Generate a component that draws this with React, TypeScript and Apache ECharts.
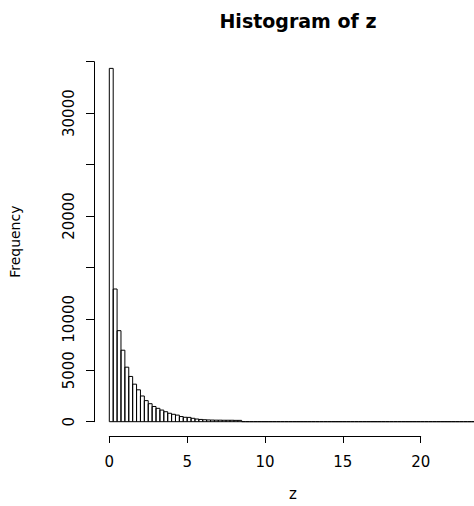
import React, { useEffect, useRef } from "react";
import * as echarts from "echarts";

// Histogram of z: bin width 0.25, starting at 0
const binWidth = 0.25;
const counts: number[] = [
  34350, 12900, 8850, 6950, 5300, 4400, 3650, 3100, 2500, 2050,
  1750, 1480, 1300, 1130, 970, 820, 720, 640, 500, 430,
  420, 330, 260, 220, 190, 170, 160, 150, 150, 140,
  140, 140, 130, 130,
  // 8.5 .. 23.5 (near-empty tail)
  3, 2, 1, 1, 0, 1, 0, 0, 1, 0,
  0, 0, 0, 0, 0, 0, 0, 0, 0, 0,
  0, 0, 0, 0, 0, 0, 0, 0, 0, 0,
  0, 0, 0, 0, 0, 0, 0, 0, 0, 0,
  0, 0, 0, 0, 0, 0, 0, 0, 0, 0,
  0, 0, 0, 0, 0, 0, 0, 0, 0, 1,
];
const xTicks = [0, 5, 10, 15, 20];
const yTickLabels = [0, 5000, 10000, 20000, 30000];

const titleText = "Histogram of z";
const xName = "z";
const yName = "Frequency";

const FONT = "DejaVu Sans";

export default function App() {
  const ref = useRef<HTMLDivElement>(null);
  useEffect(() => {
    if (!ref.current) return;
    const chart = echarts.init(ref.current, undefined, { renderer: "svg" });
    const data = counts.map((c, i) => [i * binWidth, (i + 1) * binWidth, c]);
    chart.setOption({
      animation: false,
      backgroundColor: "#fff",
      title: {
        text: titleText,
        left: 293,
        top: 6,
        textAlign: "center",
        textStyle: { fontFamily: FONT, fontWeight: "bold", fontSize: 19, color: "#000" },
      },
      grid: {
        left: 109.3,
        top: 61.7,
        width: 311.4,
        height: 360,
        outerBoundsMode: "none",
        containLabel: false,
      },
      xAxis: {
        type: "value",
        min: xTicks[0],
        max: xTicks[xTicks.length - 1],
        interval: 5,
        offset: 14.3,
        name: xName,
        nameLocation: "middle",
        nameGap: 50,
        nameTextStyle: { fontFamily: FONT, fontSize: 15, color: "#000", padding: [0, 0, 0, 56] },
        axisLine: { show: true, onZero: false, lineStyle: { color: "#000", width: 1 } },
        axisTick: { show: true, length: 7, lineStyle: { color: "#000" } },
        axisLabel: { fontFamily: FONT, fontSize: 15, color: "#000", margin: 18 },
        splitLine: { show: false },
      },
      yAxis: {
        type: "value",
        min: 0,
        max: 35000,
        interval: 5000,
        offset: 15.3,
        name: yName,
        nameLocation: "middle",
        nameRotate: 90,
        nameGap: 72,
        nameTextStyle: { fontFamily: FONT, fontSize: 14, color: "#000" },
        axisLine: { show: true, onZero: false, lineStyle: { color: "#000", width: 1 } },
        axisTick: { show: true, length: 8, lineStyle: { color: "#000" } },
        axisLabel: {
          fontFamily: FONT,
          fontSize: 15,
          color: "#000",
          rotate: 90,
          margin: 18,
          formatter: (v: number) => (yTickLabels.includes(v) ? String(v) : ""),
        },
        splitLine: { show: false },
      },
      series: [
        {
          type: "custom",
          clip: false,
          encode: { x: [0, 1], y: 2 },
          data,
          renderItem: (params: any, api: any) => {
            const x0 = api.value(0);
            const x1 = api.value(1);
            const c = api.value(2);
            const p0 = api.coord([x0, 0]);
            const p1 = api.coord([x1, c]);
            return {
              type: "polygon",
              shape: {
                points: [
                  [p0[0], p0[1]],
                  [p1[0], p0[1]],
                  [p1[0], p1[1]],
                  [p0[0], p1[1]],
                ],
              },
              style: { fill: "none", stroke: "#000", lineWidth: 1 },
            };
          },
        },
      ],
    });
    return () => chart.dispose();
  }, []);
  return (
    <div
      ref={ref}
      style={{ position: "absolute", left: 0, top: 0, width: 474, height: 506 }}
    />
  );
}
